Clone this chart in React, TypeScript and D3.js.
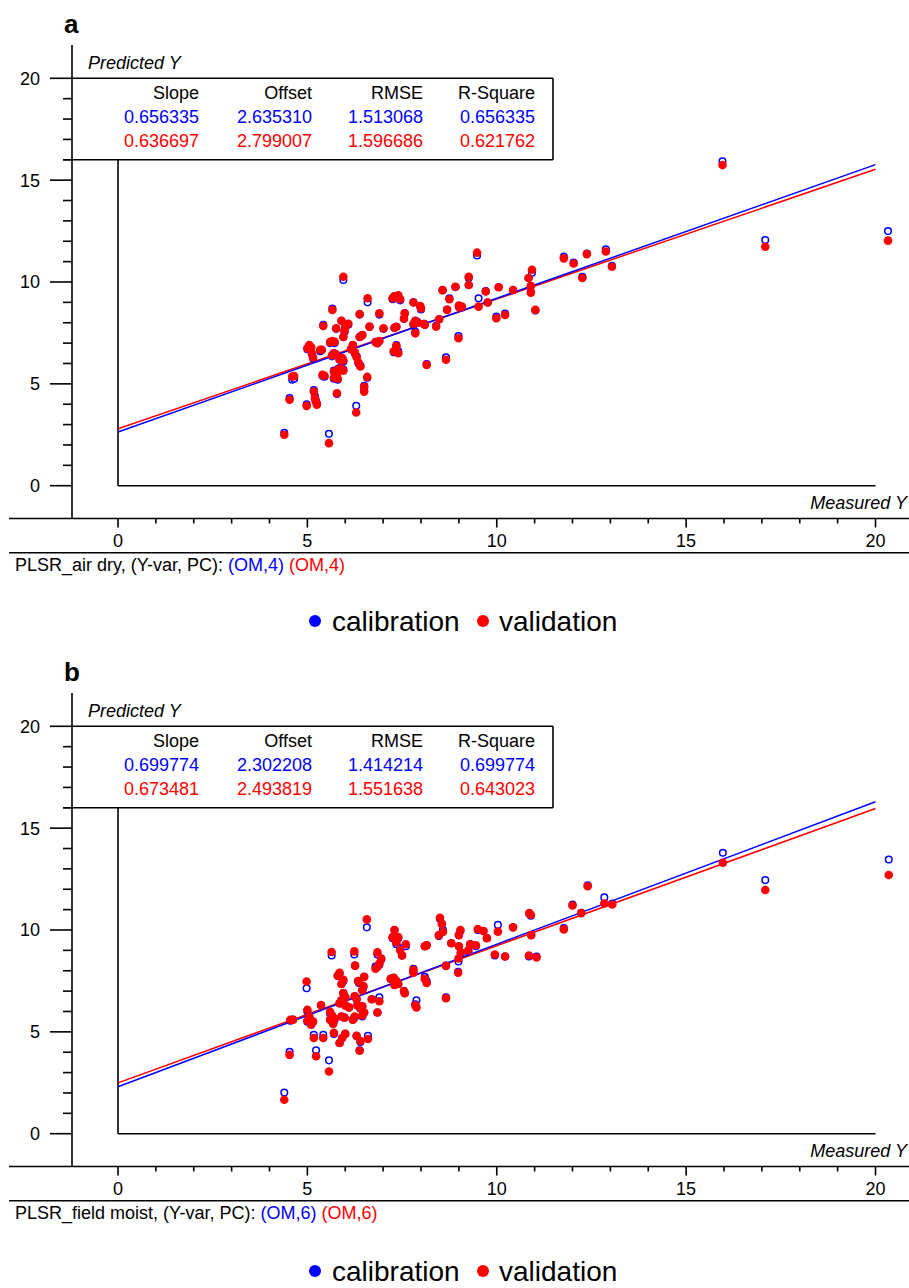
import React from 'react';
import * as d3 from 'd3';

const statHeaders = ['Slope', 'Offset', 'RMSE', 'R-Square'];
const aCalStats = ['0.656335', '2.635310', '1.513068', '0.656335'];
const aValStats = ['0.636697', '2.799007', '1.596686', '0.621762'];
const bCalStats = ['0.699774', '2.302208', '1.414214', '0.699774'];
const bValStats = ['0.673481', '2.493819', '1.551638', '0.643023'];

const xTickLabels = [0, 5, 10, 15, 20];
const yTickLabels = [0, 5, 10, 15, 20];

// [measured, calibration predicted, validation predicted]
const panelAPoints: [number, number, number][] = [
  [4.39, 2.6, 2.5], [5.57, 2.55, 2.09], [6.29, 3.92, 3.59], [4.53, 4.3, 4.22], [4.98, 4.0, 3.92],
  [4.6, 5.2, 5.36], [4.65, 5.25, 5.38], [5.17, 4.7, 4.62], [5.2, 4.4, 4.3], [5.25, 4.05, 3.98],
  [5.22, 4.2, 4.15], [5.78, 4.5, 4.54], [6.5, 4.7, 4.62], [6.5, 4.9, 4.86], [6.58, 5.3, 5.34],
  [5.4, 5.4, 5.44], [5.45, 5.35, 5.4], [5.7, 5.25, 5.3], [5.8, 5.2, 5.25], [5.78, 5.35, 5.4],
  [5.7, 5.65, 5.6], [5.82, 5.75, 5.7], [5.95, 5.7, 5.65], [5.88, 5.8, 5.75], [5.34, 6.6, 6.67],
  [5.38, 6.65, 6.67], [5.05, 6.85, 6.9], [5.0, 6.7, 6.75], [5.1, 6.75, 6.8], [5.12, 6.45, 6.5],
  [5.15, 6.25, 6.3], [5.66, 7.05, 7.1], [5.6, 7.0, 7.05], [5.72, 7.0, 7.06], [5.7, 6.5, 6.5],
  [5.65, 6.35, 6.4], [5.75, 6.45, 6.45], [5.92, 6.25, 6.27], [5.95, 6.1, 6.15], [5.85, 6.2, 6.2],
  [5.42, 7.9, 7.84], [5.76, 7.7, 7.73], [5.9, 8.1, 8.1], [6.0, 7.8, 7.8], [6.08, 7.9, 7.95],
  [5.98, 7.55, 7.6], [5.95, 7.3, 7.3], [6.2, 6.9, 6.9], [6.15, 6.7, 6.7], [6.25, 6.5, 6.55],
  [6.3, 6.35, 6.3], [6.35, 6.0, 6.05], [6.4, 5.9, 5.85], [6.42, 7.35, 7.35], [6.45, 7.4, 7.4],
  [6.38, 7.3, 7.3], [6.64, 7.8, 7.81], [6.8, 7.05, 7.05], [6.85, 7.0, 7.0], [6.9, 7.1, 7.1],
  [7.01, 7.7, 7.73], [7.3, 7.75, 7.75], [7.35, 7.8, 7.8], [7.35, 6.9, 6.85], [7.4, 6.6, 6.5],
  [7.28, 6.55, 6.6], [5.66, 8.7, 8.63], [5.95, 10.1, 10.26], [6.38, 8.4, 8.43], [6.59, 9.0, 9.2],
  [6.9, 8.4, 8.46], [7.3, 9.3, 9.3], [7.4, 9.3, 9.35], [7.25, 9.15, 9.2], [7.45, 9.1, 9.15],
  [7.8, 9.0, 8.99], [7.98, 8.8, 8.82], [8.0, 8.65, 8.7], [7.57, 8.46, 8.46], [7.55, 8.2, 8.2],
  [7.85, 8.1, 8.1], [7.8, 7.9, 7.95], [7.9, 8.05, 8.0], [8.08, 7.95, 7.94], [8.1, 7.9, 7.9],
  [8.48, 8.17, 8.17], [8.69, 8.65, 8.63], [9.02, 8.75, 8.75], [9.0, 8.8, 8.85], [9.08, 8.75, 8.8],
  [9.52, 9.2, 8.79], [9.76, 8.99, 8.99], [9.99, 8.3, 8.22], [10.22, 8.45, 8.38], [11.02, 8.6, 8.63],
  [8.99, 7.35, 7.24], [8.66, 6.3, 6.18], [8.15, 5.97, 5.93], [8.4, 7.85, 7.81], [7.85, 7.55, 7.48],
  [8.57, 9.6, 9.6], [8.91, 9.75, 9.77], [10.05, 9.74, 9.74], [9.71, 9.55, 9.53], [10.43, 9.6, 9.61],
  [8.75, 9.2, 9.15], [9.26, 10.2, 10.26], [9.26, 9.85, 9.85], [9.48, 11.3, 11.44], [10.93, 10.45, 10.6],
  [10.84, 10.2, 10.2], [10.9, 9.8, 9.8], [10.9, 9.5, 9.48], [11.77, 11.25, 11.16], [12.03, 10.95, 10.91],
  [12.38, 11.4, 11.37], [12.26, 10.25, 10.2], [12.88, 11.6, 11.5], [13.04, 10.8, 10.75],
  [15.96, 15.93, 15.74], [17.09, 12.06, 11.73], [20.33, 12.5, 12.03],
];

const panelBPoints: [number, number, number][] = [
  [4.39, 2.02, 1.67], [4.53, 4.02, 3.87], [5.23, 4.1, 3.8], [5.57, 3.6, 3.05], [4.55, 5.55, 5.59],
  [4.62, 5.6, 5.59], [4.98, 7.14, 7.47], [5.36, 6.3, 6.32], [5.0, 6.0, 6.08], [5.05, 5.7, 5.75],
  [5.0, 5.5, 5.55], [5.1, 5.35, 5.35], [5.15, 5.5, 5.5], [5.6, 5.9, 5.98], [5.65, 5.8, 5.8],
  [5.72, 5.6, 5.65], [5.6, 5.6, 5.6], [5.68, 5.4, 5.4], [5.9, 5.75, 5.75], [5.98, 5.7, 5.7],
  [6.2, 5.6, 5.6], [6.25, 5.7, 5.75], [6.45, 5.75, 5.8], [6.5, 5.95, 5.95], [5.17, 4.85, 4.7],
  [5.42, 4.85, 4.7], [5.7, 4.9, 4.95], [5.85, 4.45, 4.45], [5.92, 4.7, 4.7], [6.0, 4.9, 4.9],
  [6.3, 4.8, 4.8], [6.4, 4.5, 4.55], [6.38, 4.1, 4.07], [6.6, 4.8, 4.65], [6.57, 10.13, 10.52],
  [8.5, 10.55, 10.6], [8.55, 10.3, 10.3], [8.58, 10.0, 9.9], [8.47, 9.7, 9.75], [10.86, 10.8, 10.83],
  [10.9, 10.7, 10.75], [11.77, 10.1, 10.03], [10.03, 10.25, 9.92], [10.43, 10.13, 10.13], [9.5, 10.0, 10.05],
  [9.65, 9.95, 9.95], [9.74, 9.6, 9.6], [9.04, 9.95, 10.0], [9.0, 9.75, 9.75], [8.8, 9.35, 9.35],
  [9.0, 9.2, 9.2], [9.05, 8.85, 8.9], [9.3, 9.3, 9.3], [9.45, 9.2, 9.25], [9.25, 8.95, 9.0],
  [10.91, 9.75, 9.75], [9.95, 8.75, 8.8], [10.22, 8.7, 8.7], [10.85, 8.7, 8.75], [11.05, 8.7, 8.65],
  [8.99, 8.45, 8.6], [8.98, 7.95, 7.9], [8.66, 8.25, 8.24], [8.1, 7.7, 7.6], [8.15, 7.5, 7.4],
  [7.8, 8.1, 8.05], [7.8, 7.95, 7.9], [7.35, 9.3, 9.4], [7.4, 9.6, 9.65], [7.45, 9.1, 9.0],
  [7.5, 8.75, 8.75], [7.6, 9.2, 9.3], [7.3, 10.0, 10.0], [7.25, 9.6, 9.65], [8.1, 9.2, 9.2],
  [8.15, 9.25, 9.25], [6.85, 8.8, 8.9], [6.95, 8.55, 8.6], [6.9, 8.3, 8.35], [6.8, 8.2, 8.1],
  [6.85, 8.2, 8.2], [6.24, 8.8, 8.95], [6.26, 8.25, 8.25], [5.64, 8.75, 8.92], [5.8, 7.75, 7.75],
  [5.85, 7.85, 7.9], [5.95, 7.5, 7.55], [5.9, 7.35, 7.35], [6.34, 7.5, 7.5], [6.36, 7.4, 7.45],
  [6.5, 7.7, 7.7], [6.48, 7.2, 7.25], [6.45, 7.05, 7.05], [7.2, 7.6, 7.6], [7.28, 7.65, 7.65],
  [7.35, 7.5, 7.5], [7.3, 7.3, 7.3], [7.4, 7.35, 7.35], [7.55, 7.0, 7.0], [7.57, 6.9, 6.9],
  [5.95, 6.9, 6.9], [6.0, 6.7, 6.7], [5.9, 6.55, 6.55], [5.85, 6.4, 6.4], [6.0, 6.3, 6.3],
  [6.1, 6.2, 6.2], [6.25, 6.75, 6.75], [6.3, 6.6, 6.6], [6.32, 6.3, 6.3], [6.4, 6.15, 6.15],
  [6.45, 6.25, 6.25], [6.7, 6.6, 6.6], [6.85, 5.95, 5.95], [6.9, 6.7, 6.5], [7.88, 6.55, 6.2],
  [7.85, 6.35, 6.3], [8.66, 6.7, 6.65], [12.0, 11.25, 11.2], [12.4, 12.2, 12.15], [12.23, 10.85, 10.83],
  [12.84, 11.6, 11.3], [13.05, 11.3, 11.25], [15.97, 13.79, 13.3], [17.09, 12.45, 11.96],
  [20.35, 13.46, 12.7],
];

const BLUE = '#0000ff';
const RED = '#ff0000';
const FONT = '"Liberation Sans", Arial, sans-serif';

type PanelProps = {
  oy: number;
  letter: string;
  captionPrefix: string;
  captionTag: string;
  calStats: string[];
  valStats: string[];
  points: [number, number, number][];
  legendY: number;
};

function Panel({ oy, letter, captionPrefix, captionTag, calStats, valStats, points, legendY }: PanelProps) {
  const x = d3.scaleLinear().domain([0, 20]).range([118, 875.5]);
  const y = d3.scaleLinear().domain([0, 20]).range([oy + 485.7, oy + 78.3]);
  const axisX = 72;
  const xAxisY = oy + 518.5;
  const minorTicks = d3.range(0, 21);
  const regLine = (slope: number, offset: number) =>
    d3.line<number>().x((v) => x(v)).y((v) => y(slope * v + offset))([0, 20]) as string;
  const colRight = [199, 312, 423, 535];
  const rowY = [oy + 99, oy + 123, oy + 146.5];

  return (
    <g fontFamily={FONT}>
      <text x={64} y={oy + 33} fontSize={26} fontWeight="bold">{letter}</text>
      {/* y axis */}
      <line x1={axisX} x2={axisX} y1={oy + 45} y2={xAxisY} stroke="#000" strokeWidth={1.6} />
      {minorTicks.map((t) => (
        <line key={'yt' + t} x1={t % 5 === 0 ? 50 : 63} x2={axisX} y1={y(t)} y2={y(t)} stroke="#000" strokeWidth={1.6} />
      ))}
      {yTickLabels.map((t) => (
        <text key={'yl' + t} x={40} y={y(t)} dy="0.36em" textAnchor="end" fontSize={18}>{t}</text>
      ))}
      <text x={88} y={oy + 69} fontSize={18} fontStyle="italic">Predicted Y</text>
      {/* stats box */}
      <line x1={axisX} x2={553} y1={y(20)} y2={y(20)} stroke="#000" strokeWidth={1.6} />
      <line x1={553} x2={553} y1={y(20)} y2={y(16)} stroke="#000" strokeWidth={1.6} />
      <line x1={63} x2={553} y1={y(16)} y2={y(16)} stroke="#000" strokeWidth={1.6} />
      {statHeaders.map((h, i) => (
        <text key={'h' + i} x={colRight[i]} y={rowY[0]} textAnchor="end" fontSize={18} fill="#000">{h}</text>
      ))}
      {calStats.map((h, i) => (
        <text key={'c' + i} x={colRight[i]} y={rowY[1]} textAnchor="end" fontSize={18} fill={BLUE}>{h}</text>
      ))}
      {valStats.map((h, i) => (
        <text key={'v' + i} x={colRight[i]} y={rowY[2]} textAnchor="end" fontSize={18} fill={RED}>{h}</text>
      ))}
      {/* plot frame */}
      <line x1={x(0)} x2={x(0)} y1={y(16)} y2={y(0)} stroke="#000" strokeWidth={1.6} />
      <line x1={x(0)} x2={x(20)} y1={y(0)} y2={y(0)} stroke="#000" strokeWidth={1.6} />
      <text x={907} y={oy + 509} textAnchor="end" fontSize={18} fontStyle="italic">Measured Y</text>
      {/* x axis */}
      <line x1={9} x2={909} y1={xAxisY} y2={xAxisY} stroke="#000" strokeWidth={1.6} />
      {minorTicks.map((t) => (
        <line key={'xt' + t} x1={x(t)} x2={x(t)} y1={xAxisY} y2={xAxisY + (t % 5 === 0 ? 9 : 5)} stroke="#000" strokeWidth={1.6} />
      ))}
      {xTickLabels.map((t) => (
        <text key={'xl' + t} x={x(t)} y={oy + 547} textAnchor="middle" fontSize={18}>{t}</text>
      ))}
      <line x1={9} x2={909} y1={oy + 552.7} y2={oy + 552.7} stroke="#000" strokeWidth={1.6} />
      <text x={15} y={oy + 571} fontSize={18}>
        {captionPrefix}
        <tspan fill={BLUE}>{captionTag}</tspan>
        <tspan> </tspan>
        <tspan fill={RED}>{captionTag}</tspan>
      </text>
      {/* regression lines */}
      <path d={regLine(+valStats[0], +valStats[1])} stroke={RED} strokeWidth={1.5} fill="none" />
      <path d={regLine(+calStats[0], +calStats[1])} stroke={BLUE} strokeWidth={1.5} fill="none" />
      {/* points */}
      {points.map((p, i) => (
        <circle key={'cb' + i} cx={x(p[0])} cy={y(p[1])} r={3.3} fill="#fff" stroke={BLUE} strokeWidth={1.5} />
      ))}
      {points.map((p, i) => (
        <circle key={'cr' + i} cx={x(p[0])} cy={y(p[2])} r={4.3} fill={RED} />
      ))}
      {/* legend */}
      <circle cx={315} cy={legendY} r={6} fill={BLUE} />
      <text x={332} y={legendY + 9.5} fontSize={28}>calibration</text>
      <circle cx={483} cy={legendY} r={6} fill={RED} />
      <text x={499} y={legendY + 9.5} fontSize={28}>validation</text>
    </g>
  );
}

export default function App() {
  return (
    <svg width={909} height={1288} style={{ position: 'absolute', left: 0, top: 0, background: '#fff' }}>
      <rect x={0} y={0} width={909} height={1288} fill="#fff" />
      <Panel
        oy={0}
        letter="a"
        captionPrefix="PLSR_air dry, (Y-var, PC): "
        captionTag="(OM,4)"
        calStats={aCalStats}
        valStats={aValStats}
        points={panelAPoints}
        legendY={621}
      />
      <Panel
        oy={648}
        letter="b"
        captionPrefix="PLSR_field moist, (Y-var, PC): "
        captionTag="(OM,6)"
        calStats={bCalStats}
        valStats={bValStats}
        points={panelBPoints}
        legendY={1271}
      />
    </svg>
  );
}
